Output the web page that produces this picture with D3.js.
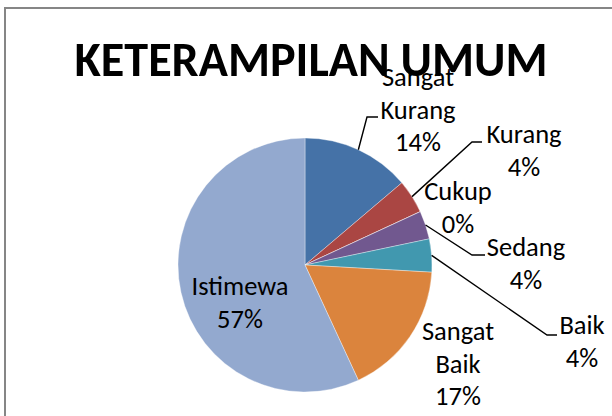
<!DOCTYPE html>
<html>
<head>
<meta charset="utf-8">
<script src="https://cdn.jsdelivr.net/npm/d3@7"></script>
<style>
  html, body { margin: 0; padding: 0; background: #fff; }
  svg { display: block; }
  text { font-family: Carlito, "Noto Sans", "Open Sans", sans-serif; fill: #000; }
</style>
</head>
<body>
<svg id="chart" width="612" height="416"></svg>
<script>
// ---- data ----
const categories = ["Sangat Kurang", "Kurang", "Cukup", "Sedang", "Baik", "Sangat Baik", "Istimewa"];
const values     = [13.8, 4.3, 0, 3.6, 4.2, 17.2, 56.9];
const colors     = ["#4572A7", "#AA4643", "#89A54E", "#71588F", "#4198AF", "#DB843D", "#93A9CF"];
const titleText  = "KETERAMPILAN UMUM";

// ---- label layout (annotation positions) ----
const labelLines = [["Sangat", "Kurang"], ["Kurang"], ["Cukup"], ["Sedang"], ["Baik"], ["Sangat", "Baik"], ["Istimewa"]];
const labelPos = [
  {x: 418, y: 86,  elbow: [367, 117], end: [378, 117]},
  {x: 524, y: 143, elbow: [472, 142], end: [482, 142]},
  {x: 458, y: 200, elbow: null},
  {x: 526, y: 256, elbow: [472, 255], end: [485, 255]},
  {x: 582, y: 334, elbow: [547, 335], end: [557, 335]},
  {x: 458, y: 340, elbow: null},
  {x: 240, y: 295, elbow: null}
];
const lineH = 32.5;

const svg = d3.select("#chart");

// chart border
svg.append("rect")
  .attr("x", 5).attr("y", 8).attr("width", 640).attr("height", 440)
  .attr("fill", "#fff").attr("stroke", "#868686").attr("stroke-width", 2);

// title
svg.append("text")
  .attr("x", 311).attr("y", 76)
  .attr("text-anchor", "middle")
  .attr("font-weight", "bold")
  .attr("font-size", 48)
  .attr("textLength", 473)
  .attr("lengthAdjust", "spacingAndGlyphs")
  .text(titleText);

// pie
const cx = 305, cy = 265, r = 127;
const pie = d3.pie().sort(null).value(d => d)(values);
const arc = d3.arc().innerRadius(0).outerRadius(r);
const g = svg.append("g").attr("transform", `translate(${cx},${cy})`);

g.selectAll("path").data(pie).join("path")
  .attr("d", arc)
  .attr("fill", (d, i) => colors[i])
  .attr("stroke", "#fff")
  .attr("stroke-opacity", 0.6)
  .attr("stroke-width", 0.6);

// leader lines
pie.forEach((d, i) => {
  const lp = labelPos[i];
  if (!lp.elbow) return;
  const a = (d.startAngle + d.endAngle) / 2;
  const sx = cx + r * Math.sin(a), sy = cy - r * Math.cos(a);
  svg.append("polyline")
    .attr("points", `${sx},${sy} ${lp.elbow[0]},${lp.elbow[1]} ${lp.end[0]},${lp.end[1]}`)
    .attr("fill", "none").attr("stroke", "#000").attr("stroke-width", 1.4);
});

// labels
pie.forEach((d, i) => {
  const lp = labelPos[i];
  const lines = labelLines[i].concat([Math.round(values[i]) + "%"]);
  const t = svg.append("text")
    .attr("text-anchor", "middle")
    .attr("font-size", 26.5);
  lines.forEach((ln, k) => {
    t.append("tspan").attr("x", lp.x).attr("y", lp.y + k * lineH).text(ln);
  });
});
</script>
</body>
</html>
